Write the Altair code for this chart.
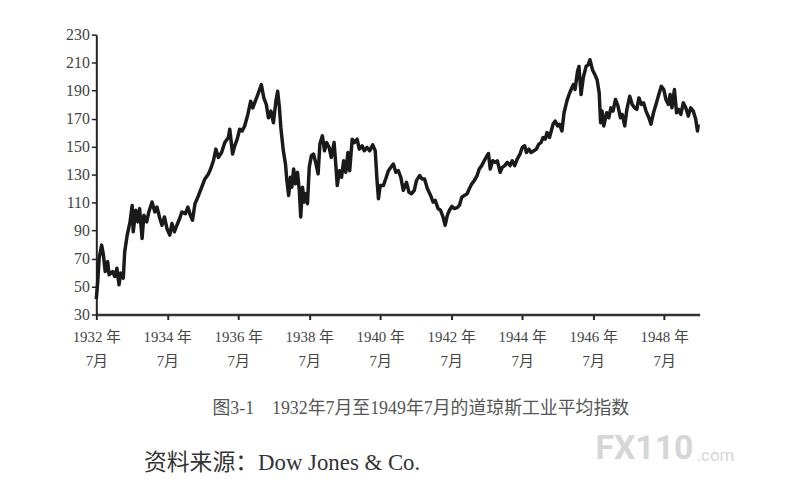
import altair as alt
import pandas as pd

# Dow Jones Industrial Average (decimal year, index)
years = [
    1932.50, 1932.54, 1932.58, 1932.65, 1932.70, 1932.75, 1932.82, 1932.86, 1932.96, 1933.02,
    1933.08, 1933.14, 1933.19, 1933.26, 1933.30, 1933.37, 1933.45, 1933.51, 1933.54, 1933.61,
    1933.67, 1933.72, 1933.79, 1933.84, 1933.92, 1933.98, 1934.07, 1934.15, 1934.21, 1934.29,
    1934.35, 1934.42, 1934.49, 1934.57, 1934.63, 1934.70, 1934.77, 1934.85, 1934.91, 1935.01,
    1935.08, 1935.15, 1935.21, 1935.28, 1935.38, 1935.47, 1935.56, 1935.66, 1935.72, 1935.80,
    1935.87, 1935.94, 1936.03, 1936.12, 1936.22, 1936.26, 1936.34, 1936.40, 1936.47, 1936.54,
    1936.61, 1936.68, 1936.77, 1936.85, 1936.91, 1936.98, 1937.05, 1937.15, 1937.22, 1937.29,
    1937.35, 1937.42, 1937.49, 1937.56, 1937.61, 1937.66, 1937.70, 1937.77, 1937.83, 1937.87,
    1937.92, 1937.97, 1938.01, 1938.06, 1938.11, 1938.17, 1938.22, 1938.26, 1938.31, 1938.36,
    1938.40, 1938.45, 1938.50, 1938.56, 1938.62, 1938.68, 1938.75, 1938.80, 1938.87, 1938.93,
    1938.99, 1939.06, 1939.12, 1939.20, 1939.24, 1939.29, 1939.35, 1939.41, 1939.47, 1939.53,
    1939.59, 1939.64, 1939.71, 1939.77, 1939.85, 1939.91, 1939.99, 1940.05, 1940.13, 1940.20,
    1940.29, 1940.36, 1940.41, 1940.45, 1940.50, 1940.59, 1940.67, 1940.73, 1940.80, 1940.87,
    1940.94, 1941.01, 1941.08, 1941.15, 1941.24, 1941.31, 1941.38, 1941.46, 1941.52, 1941.61,
    1941.68, 1941.75, 1941.83, 1941.92, 1941.99, 1942.05, 1942.13, 1942.20, 1942.27, 1942.33,
    1942.39, 1942.45, 1942.52, 1942.59, 1942.67, 1942.73, 1942.80, 1942.87, 1942.95, 1943.01,
    1943.08, 1943.15, 1943.23, 1943.29, 1943.36, 1943.43, 1943.51, 1943.55, 1943.60, 1943.67,
    1943.74, 1943.80, 1943.88, 1943.94, 1944.01, 1944.08, 1944.16, 1944.22, 1944.29, 1944.36,
    1944.44, 1944.50, 1944.57, 1944.62, 1944.69, 1944.75, 1944.83, 1944.90, 1944.97, 1945.03,
    1945.09, 1945.15, 1945.20, 1945.27, 1945.37, 1945.43, 1945.50, 1945.55, 1945.62, 1945.68,
    1945.76, 1945.82, 1945.88, 1945.94, 1945.99, 1946.06, 1946.10, 1946.16, 1946.22, 1946.30,
    1946.36, 1946.41, 1946.48, 1946.55, 1946.61, 1946.67, 1946.71, 1946.75, 1946.80, 1946.88,
    1946.94, 1947.00, 1947.06, 1947.13, 1947.20, 1947.27, 1947.32, 1947.39, 1947.45, 1947.53,
    1947.60, 1947.67, 1947.73, 1947.79, 1947.86, 1947.92, 1947.99, 1948.07, 1948.13, 1948.20,
    1948.27, 1948.35, 1948.42, 1948.49, 1948.55, 1948.62, 1948.67, 1948.72, 1948.79, 1948.85,
    1948.91, 1948.97, 1949.04, 1949.11, 1949.18, 1949.25, 1949.32, 1949.39, 1949.44, 1949.46,
]
values = [
    41.0, 53.6, 70.2, 79.6, 72.6, 60.7, 67.8, 58.4, 60.7, 57.2,
    63.1, 51.3, 59.6, 56.0, 74.9, 86.7, 96.2, 108.0, 89.1, 104.5,
    96.2, 105.7, 84.4, 100.9, 96.2, 103.3, 110.4, 103.3, 106.8, 98.6,
    93.8, 99.7, 91.5, 86.7, 95.0, 89.1, 93.8, 98.6, 103.3, 102.1,
    106.8, 100.9, 97.4, 109.2, 115.1, 121.0, 126.9, 130.5, 134.0, 139.9,
    148.2, 142.3, 145.8, 152.9, 156.5, 162.4, 144.7, 150.6, 155.3, 162.4,
    161.2, 164.8, 173.0, 182.5, 177.7, 182.5, 187.2, 194.3, 184.8, 180.1,
    170.6, 175.4, 167.1, 182.5, 189.6, 177.7, 163.5, 147.0, 137.6, 125.7,
    115.1, 128.1, 121.0, 134.0, 123.4, 131.6, 118.7, 99.7, 121.0, 110.4,
    116.3, 109.2, 135.2, 143.5, 144.7, 138.7, 130.5, 151.8, 157.7, 147.0,
    152.9, 149.4, 142.3, 152.9, 139.9, 122.2, 132.8, 128.1, 139.9, 131.6,
    145.8, 132.8, 155.3, 152.9, 155.3, 148.2, 150.6, 147.0, 149.4, 147.0,
    151.3, 147.0, 125.7, 112.8, 122.2, 122.2, 128.1, 132.8, 135.2, 137.6,
    131.6, 132.8, 128.1, 118.7, 124.5, 117.4, 116.3, 118.7, 125.7, 129.3,
    126.9, 126.9, 119.9, 115.1, 110.4, 111.6, 105.7, 104.5, 99.7, 93.8,
    100.9, 104.5, 107.3, 105.7, 106.4, 108.0, 113.9, 115.1, 116.3, 119.9,
    123.4, 125.7, 129.3, 134.0, 136.4, 139.9, 143.5, 145.1, 134.0, 139.9,
    138.7, 139.9, 131.6, 135.2, 136.4, 138.7, 136.4, 139.9, 136.4, 141.1,
    144.7, 149.4, 150.6, 145.8, 148.2, 145.8, 147.0, 148.2, 151.8, 152.9,
    156.5, 155.3, 160.0, 156.5, 166.0, 168.3, 164.8, 166.0, 161.2, 174.2,
    182.5, 187.2, 190.8, 194.3, 190.8, 203.8, 207.3, 187.2, 199.0, 207.3,
    208.5, 212.1, 205.0, 201.4, 197.9, 188.4, 167.1, 175.4, 164.8, 174.2,
    170.6, 177.7, 175.4, 183.7, 178.9, 170.6, 173.0, 164.8, 176.6, 186.0,
    180.1, 177.7, 176.6, 184.8, 180.1, 181.3, 175.4, 170.6, 166.0, 174.2,
    180.1, 187.2, 193.1, 190.8, 183.7, 180.1, 187.2, 177.7, 190.8, 174.2,
    176.6, 173.0, 181.3, 177.7, 171.8, 177.7, 175.4, 169.5, 161.2, 166.0,
]

x_ticks = [1932.5, 1934.5, 1936.5, 1938.5, 1940.5, 1942.5, 1944.5, 1946.5, 1948.5]
y_ticks = [30, 50, 70, 90, 110, 130, 150, 170, 190, 210, 230]

caption = "图3-1\u20031932年7月至1949年7月的道琼斯工业平均指数"
source = "资料来源：Dow Jones & Co."
watermark = "FX110"
watermark2 = ".com"

df = pd.DataFrame({"year": years, "dji": values})

SERIF = "Liberation Serif, 'Noto Sans CJK SC'"

line = alt.Chart(df).mark_line(
    color="#1a1a1a", strokeWidth=3.5, strokeJoin="round"
).encode(
    x=alt.X(
        "year:Q",
        scale=alt.Scale(domain=[1932.5, 1949.5], nice=False, zero=False),
        axis=alt.Axis(
            values=x_ticks,
            title=None,
            grid=False,
            labelExpr="[format(floor(datum.value), 'd') + ' 年', '7月']",
            labelFont=SERIF,
            labelFontSize=15,
            labelColor="#444",
            labelLineHeight=24,
            labelPadding=10,
            labelBaseline="top",
            labelFlush=False,
            labelOverlap=False,
            tickSize=5,
            tickColor="#222",
            tickWidth=2,
            domainColor="#333",
            domainWidth=2.5,
        ),
    ),
    y=alt.Y(
        "dji:Q",
        scale=alt.Scale(domain=[30, 230], nice=False, zero=False),
        axis=alt.Axis(
            values=y_ticks,
            title=None,
            grid=False,
            labelFont=SERIF,
            labelFontSize=16,
            labelColor="#444",
            labelPadding=2,
            labelFlush=False,
            tickSize=5,
            tickColor="#222",
            tickWidth=1.5,
            domainColor="#222",
            domainWidth=2,
        ),
    ),
)

cap = alt.Chart(pd.DataFrame({"t": [caption]})).mark_text(
    font=SERIF, fontSize=18, color="#555", align="center", baseline="middle"
).encode(text="t:N", x=alt.value(327), y=alt.value(377))

src = alt.Chart(pd.DataFrame({"t": [source]})).mark_text(
    font=SERIF, fontSize=23, color="#333", align="left", baseline="middle"
).encode(text="t:N", x=alt.value(48), y=alt.value(432))

wm = alt.Chart(pd.DataFrame({"t": [watermark]})).mark_text(
    font="Roboto", fontSize=34, fontWeight="bold", color="#d6d6d6", align="left", baseline="middle"
).encode(text="t:N", x=alt.value(503), y=alt.value(418))

wm2 = alt.Chart(pd.DataFrame({"t": [watermark2]})).mark_text(
    font="Roboto", fontSize=17, color="#d6d6d6", align="left", baseline="middle"
).encode(text="t:N", x=alt.value(605), y=alt.value(425))

chart = alt.layer(line, cap, src, wm, wm2).properties(
    width=608,
    height=282,
    autosize=alt.AutoSizeParams(type="none"),
    padding={"left": 89, "top": 25, "right": 80, "bottom": 180},
    background="white",
).configure_view(stroke=None)

chart.save("out.html", embed_options={"renderer": "svg", "actions": False})
